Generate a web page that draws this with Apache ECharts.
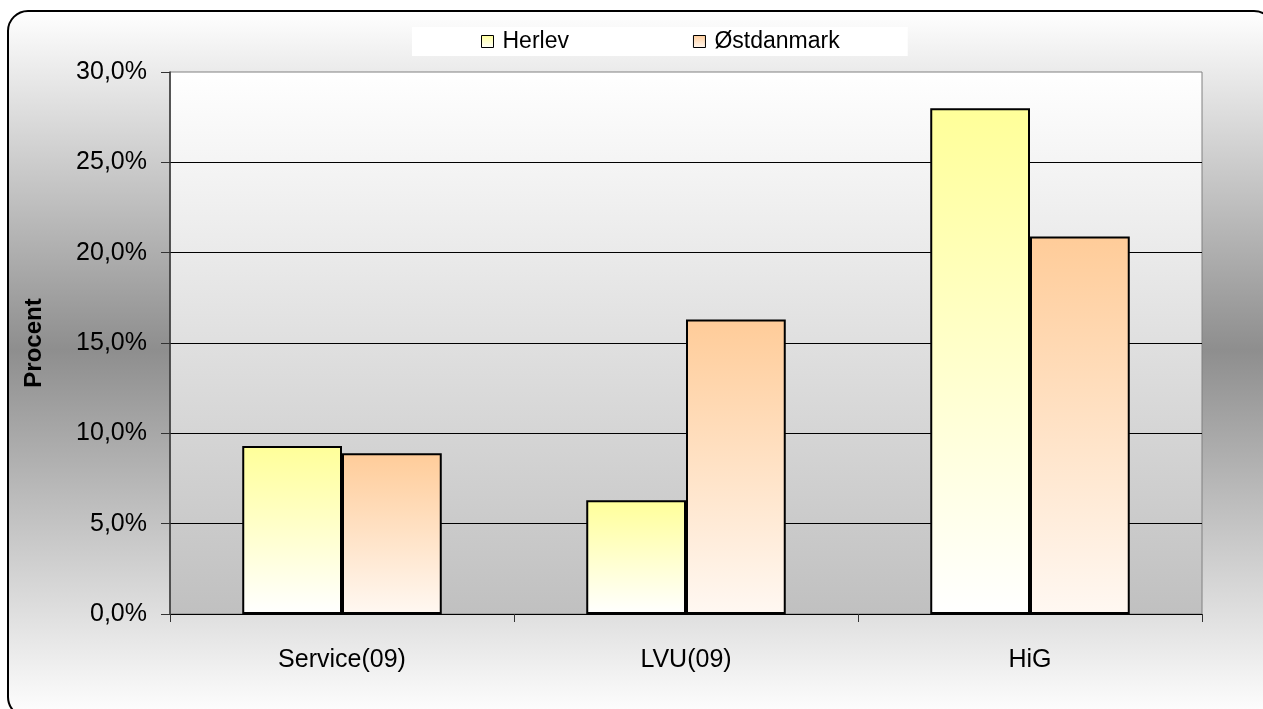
<!DOCTYPE html>
<html>
<head>
<meta charset="utf-8">
<script src="https://cdn.jsdelivr.net/npm/echarts@6/dist/echarts.min.js"></script>
<style>
html,body{margin:0;padding:0;background:#fff;}
#c{width:1263px;height:709px;}
</style>
</head>
<body>
<div id="c"></div>
<script>
const categories = ['Service(09)', 'LVU(09)', 'HiG'];
const seriesNames = ['Herlev', 'Østdanmark'];
const herlev = [9.3, 6.3, 28.0];
const ostdanmark = [8.9, 16.3, 20.9];
const yAxisName = 'Procent';
const yMin = 0, yMax = 30, yStep = 5;

const chart = echarts.init(document.getElementById('c'), null, {renderer: 'canvas'});
const LG = echarts.graphic.LinearGradient;
const font = '"Liberation Sans", Arial, sans-serif';
const fmt = v => v.toFixed(1).replace('.', ',') + '%';

chart.setOption({
  animation: false,
  backgroundColor: '#ffffff',
  textStyle: {fontFamily: font},
  graphic: [{
    type: 'rect',
    z: -100,
    silent: true,
    shape: {x: 8, y: 11, width: 1266, height: 706, r: 20},
    style: {
      fill: new LG(0, 0, 0, 1, [
        {offset: 0, color: '#ffffff'},
        {offset: 0.48, color: '#8e8e8e'},
        {offset: 1, color: '#ffffff'}
      ]),
      stroke: '#000', lineWidth: 2
    }
  }],
  legend: {
    left: 412, top: 27,
    padding: [3, 68, 3, 69],
    backgroundColor: '#ffffff',
    itemGap: 124,
    itemWidth: 12, itemHeight: 12,
    icon: 'rect',
    itemStyle: {borderColor: '#000', borderWidth: 1},
    textStyle: {fontSize: 23, color: '#000', fontFamily: font, padding: [0, 0, 0, 4]},
    data: seriesNames
  },
  grid: {
    left: 170, right: 61, top: 72, bottom: 95,
    show: true,
    borderColor: '#808080', borderWidth: 1,
    backgroundColor: new LG(0, 0, 0, 1, [
      {offset: 0, color: '#ffffff'},
      {offset: 1, color: '#c0c0c0'}
    ])
  },
  xAxis: {
    type: 'category',
    data: categories,
    axisLine: {lineStyle: {color: '#000', width: 1}},
    axisTick: {show: true, length: 8, lineStyle: {color: '#333'}},
    axisLabel: {fontSize: 25, color: '#000', margin: 34, fontFamily: font},
    splitLine: {show: false}
  },
  yAxis: {
    type: 'value',
    min: yMin, max: yMax, interval: yStep,
    name: yAxisName,
    nameLocation: 'middle',
    nameGap: 124,
    nameTextStyle: {fontSize: 24, fontWeight: 'bold', color: '#000', fontFamily: font},
    axisLine: {show: true, lineStyle: {color: '#333', width: 1.5}},
    axisTick: {show: true, length: 9, lineStyle: {color: '#333'}},
    axisLabel: {fontSize: 25, color: '#000', margin: 23, formatter: fmt, fontFamily: font},
    splitLine: {show: true, showMaxLine: false, lineStyle: {color: '#000', width: 1}}
  },
  series: [
    {
      name: seriesNames[0], type: 'bar', data: herlev,
      barGap: '0%', barCategoryGap: '42%',
      itemStyle: {
        color: new LG(0, 0, 0, 1, [
          {offset: 0, color: '#ffff99'},
          {offset: 1, color: '#ffffff'}
        ]),
        borderColor: '#000', borderWidth: 2
      }
    },
    {
      name: seriesNames[1], type: 'bar', data: ostdanmark,
      barGap: '0%', barCategoryGap: '42%',
      itemStyle: {
        color: new LG(0, 0, 0, 1, [
          {offset: 0, color: '#ffcc99'},
          {offset: 1, color: '#fff8f2'}
        ]),
        borderColor: '#000', borderWidth: 2
      }
    }
  ]
});
</script>
</body>
</html>
